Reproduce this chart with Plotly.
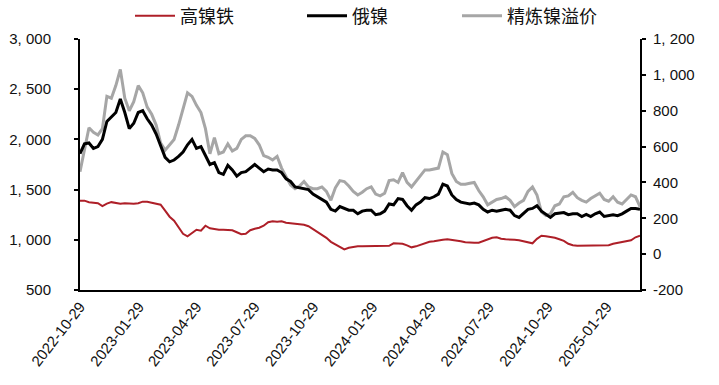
import plotly.graph_objects as go
import pandas as pd

# weekly sample dates
dates = pd.date_range("2022-10-29", periods=126, freq="7D")

# 高镍铁 (left axis)
hni = [1390,1390,1375,1370,1365,1335,1360,1375,1365,1360,1365,1360,1360,1365,1380,1380,1370,1365,1350,1290,
       1230,1190,1120,1060,1035,1070,1100,1090,1140,1115,1105,1100,1100,
       1100,1095,1075,1055,1060,1095,1110,1120,1140,1175,1185,1180,1185,1170,1165,1160,1155,1150,1135,1105,
       1075,1045,1020,980,955,935,905,920,930,935,935,
       935,935,935,935,935,940,965,965,960,945,925,935,950,965,980,985,995,1000,1005,1000,
       990,985,975,970,970,970,985,1005,1020,1025,1010,1005,
       1005,1000,995,985,970,965,1010,1040,1035,1030,1020,1005,990,960,945,940,940,940,940,940,
       940,940,945,960,970,975,985,995,1025,1040]

# 俄镍 (right axis)
rus = [560,615,620,590,600,640,740,765,790,865,790,700,730,790,800,755,720,670,610,540,
       515,525,545,570,610,640,590,600,550,500,510,455,445,
       495,470,435,455,460,480,500,480,460,475,470,470,455,420,405,375,370,365,360,335,
       320,305,290,250,240,265,255,245,245,225,240,
       245,245,220,225,240,280,275,310,305,270,245,275,290,315,310,320,335,390,380,330,
       305,290,285,280,285,275,250,235,245,240,245,250,
       245,215,205,230,250,255,270,240,220,205,225,228,232,220,225,225,210,222,210,225,
       235,210,215,220,215,225,240,255,255,250]

# 精炼镍溢价 (right axis)
ref = [460,580,705,680,665,700,880,870,940,1030,870,800,850,940,900,820,780,720,620,580,
       610,640,720,810,900,880,830,790,700,560,650,560,570,
       615,575,590,640,660,660,645,610,550,540,525,545,480,430,385,365,380,405,375,365,
       365,375,350,300,370,410,405,380,350,330,345,
       365,375,335,325,340,410,415,400,455,400,375,405,440,470,470,475,480,570,555,450,
       405,390,390,395,400,355,320,275,290,305,310,320,
       300,265,285,300,350,375,330,235,215,225,270,280,320,325,345,315,300,290,310,325,
       340,305,295,320,290,280,305,330,320,265]

x_ticks = ["2022-10-29", "2023-01-29", "2023-04-29", "2023-07-29", "2023-10-29",
           "2024-01-29", "2024-04-29", "2024-07-29", "2024-10-29", "2025-01-29"]
left_ticks = [500, 1000, 1500, 2000, 2500, 3000]
left_text = ["500", "1, 000", "1, 500", "2, 000", "2, 500", "3, 000"]
right_ticks = [-200, 0, 200, 400, 600, 800, 1000, 1200]
right_text = ["-200", "0", "200", "400", "600", "800", "1, 000", "1, 200"]

TICKFONT = dict(family="Liberation Sans, Arial, sans-serif", size=15, color="#111111")
LEGFONT = dict(family="Noto Sans CJK SC, sans-serif", size=18, color="#111111")

fig = go.Figure()
fig.add_trace(go.Scatter(x=dates, y=hni, name="高镍铁", mode="lines",
                         line=dict(color="#AE1F28", width=2), legend="legend"))
fig.add_trace(go.Scatter(x=dates, y=ref, name="精炼镍溢价", mode="lines", yaxis="y2",
                         line=dict(color="#A6A6A6", width=3), legend="legend3"))
fig.add_trace(go.Scatter(x=dates, y=rus, name="俄镍", mode="lines", yaxis="y2",
                         line=dict(color="#000000", width=3), legend="legend2"))

leg_common = dict(orientation="h", yanchor="middle", y=1 + (39 - 16) / 251, xanchor="left",
                  font=LEGFONT, bgcolor="rgba(0,0,0,0)", itemwidth=40)

fig.update_layout(
    width=719, height=385,
    margin=dict(l=80, r=79, t=39, b=95, autoexpand=False),
    paper_bgcolor="white", plot_bgcolor="white",
    showlegend=True,
    legend=dict(x=(130 - 80) / 560, **leg_common),
    legend2=dict(x=(302 - 80) / 560, **leg_common),
    legend3=dict(x=(457 - 80) / 560, **leg_common),
    xaxis=dict(type="date", range=[dates[0], dates[-1]], automargin=False,
               tickvals=x_ticks, ticktext=x_ticks, tickangle=-52,
               tickfont=TICKFONT, showgrid=False, zeroline=False,
               showline=True, linecolor="black", linewidth=2, ticks=""),
    yaxis=dict(range=[500, 3000], tickvals=left_ticks, ticktext=left_text,
               automargin=False,
               tickfont=TICKFONT, showgrid=False, zeroline=False,
               showline=True, linecolor="black", linewidth=2,
               ticks="outside", ticklen=4, tickwidth=1.5, tickcolor="black",
               ticklabelstandoff=20),
    yaxis2=dict(range=[-200, 1200], tickvals=right_ticks, ticktext=right_text,
                overlaying="y", side="right", automargin=False,
                tickfont=TICKFONT, showgrid=False, zeroline=False,
                showline=True, linecolor="black", linewidth=2,
                ticks="outside", ticklen=4, tickwidth=1.5, tickcolor="black",
                ticklabelstandoff=4),
)

fig.write_html("out.html",
               config={"displayModeBar": False},
               post_script="document.body.style.margin='0';document.body.style.overflow='hidden';")
